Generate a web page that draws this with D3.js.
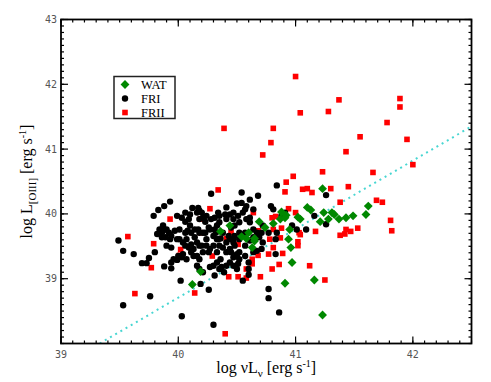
<!doctype html>
<html lang="en">
<head>
<meta charset="UTF-8">
<title>L[OIII] vs nuL_nu</title>
<script src="https://d3js.org/d3.v7.min.js"></script>
<style>
body { margin: 0; background-color: #ffffff; }
svg { display: block; }
.tick-label { font-family: "DejaVu Sans Mono", monospace; font-size: 10px; fill: #555555; }
.title { font-family: "Liberation Serif", "Times New Roman", serif; font-size: 16px; fill: #000000; }
.legend-text { font-family: "Liberation Serif", "Times New Roman", serif; font-size: 12.5px; fill: #000000; }
</style>
</head>
<body>
<div id="plot"></div>
<script>

var width = 491;
var height = 382;
var margin = { left: 61, right: 19.5, top: 19.5, bottom: 38.5 };

// WAT (green diamonds): [log nuL_nu, log L_OIII]
var watData = [
	[41.23, 40.39], [41.62, 40.12], [41.60, 39.99], [41.49, 39.97], [41.43, 39.94],
	[41.37, 39.92], [41.33, 39.99], [41.31, 40.02], [41.28, 39.92], [41.24, 40.02],
	[41.21, 39.88], [41.13, 40.06], [41.10, 40.10], [41.04, 39.92], [41.02, 39.95],
	[40.92, 39.98], [40.88, 40.03], [40.87, 39.92], [40.81, 39.85], [40.95, 39.76],
	[40.94, 39.61], [40.96, 39.48], [40.97, 39.25], [40.91, 38.93], [41.16, 38.98],
	[41.23, 38.44], [40.74, 39.79], [40.69, 39.88], [40.65, 39.62], [40.63, 39.48],
	[40.60, 39.71], [40.54, 39.65], [40.44, 39.82], [40.36, 39.73], [40.19, 39.11],
	[40.12, 38.91], [40.65, 39.58], [40.58, 39.62], [40.91, 39.94]
];

// FRI (black circles)
var friData = [
	[39.49, 39.59], [39.53, 38.59], [39.53, 39.43], [39.62, 39.38], [39.69, 39.24],
	[39.73, 39.24], [39.75, 39.32], [39.76, 38.73], [39.79, 39.97], [39.80, 39.41],
	[39.83, 40.06], [39.88, 40.12], [39.93, 40.19], [39.82, 39.69], [39.87, 39.82],
	[39.87, 39.74], [39.86, 39.64], [39.89, 39.64], [39.92, 39.71], [39.93, 39.61],
	[39.90, 39.51], [39.94, 39.48], [39.88, 39.19], [39.94, 39.16], [39.94, 39.25],
	[39.96, 39.30], [39.99, 39.29], [40.00, 39.35], [40.04, 39.38], [40.02, 38.97],
	[40.03, 38.42], [39.99, 39.97], [40.03, 39.94], [40.06, 39.88], [40.09, 39.92],
	[40.01, 39.76], [40.06, 39.71], [40.10, 39.82], [40.11, 39.71], [40.07, 39.61],
	[40.11, 39.53], [40.13, 39.46], [40.09, 39.48], [40.16, 39.56], [40.16, 40.02],
	[40.18, 40.05], [40.21, 39.94], [40.24, 39.97], [40.17, 39.76], [40.21, 39.71],
	[40.26, 39.79], [40.28, 39.92], [40.31, 39.94], [40.33, 39.82], [40.35, 39.87],
	[40.41, 39.92], [40.44, 39.99], [40.47, 39.92], [40.48, 39.82], [40.51, 39.97],
	[40.52, 39.87], [40.55, 40.02], [40.54, 40.17], [40.58, 40.12], [40.61, 40.22],
	[40.58, 39.92], [40.61, 39.87], [40.64, 39.76], [40.67, 39.71], [40.68, 40.28],
	[40.71, 39.71], [40.72, 39.56], [40.64, 40.07], [40.57, 39.71], [40.52, 39.71],
	[40.48, 39.66], [40.47, 39.56], [40.41, 39.56], [40.35, 39.51], [40.33, 39.41],
	[40.27, 39.46], [40.24, 39.51], [40.21, 39.41], [40.18, 39.30], [40.16, 39.20],
	[40.18, 39.15], [40.21, 39.10], [40.19, 38.92], [40.26, 38.83], [40.28, 40.31],
	[40.30, 38.29], [40.27, 39.18], [40.30, 39.20], [40.33, 39.25], [40.36, 39.30],
	[40.37, 39.18], [40.39, 39.10], [40.41, 39.20], [40.44, 39.25], [40.47, 39.20],
	[40.50, 39.38], [40.51, 39.23], [40.52, 39.41], [40.60, 39.25], [40.60, 39.06],
	[40.55, 38.97], [40.50, 39.35], [40.84, 40.44], [40.77, 38.84], [40.77, 38.70],
	[40.86, 38.48], [40.83, 39.38], [40.83, 39.61], [40.84, 39.71], [40.79, 40.12],
	[40.81, 40.07], [40.88, 39.97], [40.91, 40.02], [40.97, 39.82], [41.01, 39.76],
	[41.09, 39.76], [41.16, 39.97], [41.26, 40.29], [41.26, 39.84], [40.41, 39.41],
	[40.44, 39.46], [40.38, 39.48], [40.33, 39.61], [40.30, 39.66], [40.24, 39.61],
	[40.18, 39.51], [40.13, 39.35], [40.07, 39.30], [40.03, 39.33], [40.67, 39.43],
	[40.64, 39.41], [40.71, 39.46], [40.12, 40.09], [40.17, 40.09], [40.20, 40.02],
	[40.23, 39.88], [40.27, 39.76], [40.32, 39.71], [40.36, 39.62], [40.40, 39.99],
	[40.45, 39.79], [40.47, 39.61], [40.52, 39.61], [40.54, 40.33], [40.50, 40.16],
	[39.84, 39.76], [39.86, 39.71], [39.90, 39.76], [39.94, 39.66], [39.97, 39.74],
	[39.99, 39.61], [40.04, 39.56], [40.08, 39.74], [40.14, 39.76], [40.14, 39.64],
	[40.18, 39.71], [40.31, 39.76], [40.35, 39.97], [40.44, 39.61], [40.48, 39.51],
	[40.57, 39.51], [40.61, 39.59], [40.64, 39.64], [40.69, 39.64], [40.72, 39.82],
	[40.77, 39.71], [40.61, 39.94], [40.57, 40.07], [40.47, 40.02], [40.41, 40.10],
	[40.34, 40.02], [40.23, 39.71], [40.18, 39.92], [40.10, 39.99], [40.06, 40.02],
	[40.01, 39.61], [40.06, 39.51], [40.11, 39.41], [40.16, 39.35], [40.20, 39.51],
	[40.26, 39.41], [40.30, 39.51], [40.34, 39.61], [40.38, 39.71], [40.43, 39.66],
	[40.45, 39.41], [40.52, 39.30], [40.57, 39.35], [40.47, 39.33], [40.60, 39.15],
	[40.50, 39.15], [40.35, 39.15], [40.31, 39.05]
];

// FRII (red squares)
var friiData = [
	[41.00, 42.12], [41.89, 41.78], [41.89, 41.65], [41.37, 41.76], [41.28, 41.58],
	[41.04, 41.56], [40.39, 41.32], [40.81, 41.32], [41.78, 41.41], [41.55, 41.19],
	[40.79, 41.10], [41.95, 41.15], [40.72, 40.91], [41.43, 40.96], [42.00, 40.76],
	[41.23, 40.65], [41.66, 40.64], [40.98, 40.58], [40.92, 40.49], [40.91, 40.34],
	[40.34, 40.37], [41.06, 40.38], [41.10, 40.39], [41.14, 40.33], [41.30, 40.39],
	[41.45, 40.42], [41.38, 40.18], [41.69, 40.21], [41.74, 40.18], [40.94, 40.08],
	[41.00, 40.02], [41.81, 39.90], [41.82, 39.74], [41.53, 39.78], [41.47, 39.73],
	[41.43, 39.76], [41.42, 39.69], [41.38, 39.67], [41.17, 39.73], [41.03, 39.71],
	[41.04, 39.68], [41.02, 39.57], [41.02, 39.51], [40.89, 39.39], [40.86, 39.22],
	[40.80, 39.15], [40.70, 39.03], [41.12, 39.20], [41.25, 38.98], [40.14, 38.78],
	[39.63, 38.77], [39.57, 39.65], [39.77, 39.17], [39.79, 39.54], [40.40, 38.15],
	[40.43, 39.03], [40.51, 39.03], [40.58, 39.01], [40.58, 39.15], [40.63, 39.23],
	[40.63, 39.30], [40.68, 39.36], [40.77, 39.38], [40.81, 39.48], [40.78, 39.61],
	[40.81, 39.76], [40.88, 39.78], [40.83, 39.96], [40.80, 39.94], [40.29, 39.35],
	[40.02, 39.45], [40.01, 39.36], [39.93, 39.92], [40.27, 40.08], [40.19, 39.92],
	[40.19, 39.71], [40.45, 39.71], [40.51, 39.53], [40.68, 39.74], [40.41, 39.62],
	[40.64, 40.02], [40.87, 39.63]
];

// fitted relation (dotted line)
var fitX = [39.33, 42.5];
var fitY = [38.0, 41.35];

var xTicks = [39, 40, 41, 42];
var yTicks = [39, 40, 41, 42, 43];

var svg = d3.select("#plot").append("svg")
	.attr("width", width)
	.attr("height", height);

var xScale = d3.scaleLinear().domain([39, 42.5])
	.range([margin.left, width - margin.right]);
var yScale = d3.scaleLinear().domain([38, 43])
	.range([height - margin.bottom, margin.top]);

var plotW = width - margin.left - margin.right;
var plotH = height - margin.top - margin.bottom;

svg.append("clipPath").attr("id", "clip")
	.append("rect")
	.attr("x", margin.left).attr("y", margin.top)
	.attr("width", plotW).attr("height", plotH);

var plot = svg.append("g").attr("clip-path", "url(#clip)");

// dotted fit line
plot.append("path")
	.datum(d3.zip(fitX, fitY))
	.attr("d", d3.line().x(function (d) { return xScale(d[0]); }).y(function (d) { return yScale(d[1]); }))
	.style("fill", "none")
	.style("stroke", "#48d6d2")
	.style("stroke-width", 2)
	.style("stroke-dasharray", "2,4");

plot.selectAll("rect.frii").data(friiData).enter().append("rect")
	.attr("class", "frii")
	.attr("x", function (d) { return xScale(d[0]) - 2.8; })
	.attr("y", function (d) { return yScale(d[1]) - 2.8; })
	.attr("width", 5.6)
	.attr("height", 5.6)
	.style("fill", "#ff0000");

plot.selectAll("circle.fri").data(friData).enter().append("circle")
	.attr("class", "fri")
	.attr("cx", function (d) { return xScale(d[0]); })
	.attr("cy", function (d) { return yScale(d[1]); })
	.attr("r", 3.2)
	.style("fill", "#000000");

var diamond = d3.symbol().type(d3.symbolDiamond2).size(50);

plot.selectAll("path.wat").data(watData).enter().append("path")
	.attr("class", "wat")
	.attr("transform", function (d) { return "translate(" + xScale(d[0]) + "," + yScale(d[1]) + ")"; })
	.attr("d", diamond)
	.style("fill", "#008800");

// axes with inward ticks on all sides
var xMinor = d3.range(39, 42.5001, 0.1);
var yMinor = d3.range(38, 43.0001, 0.1);

function tickSet(g, scale, vals, len, orient) {
	vals.forEach(function (v) {
		var p = scale(v);
		if (orient === "bottom") {
			g.append("line").attr("x1", p).attr("x2", p).attr("y1", height - margin.bottom).attr("y2", height - margin.bottom - len);
		} else if (orient === "top") {
			g.append("line").attr("x1", p).attr("x2", p).attr("y1", margin.top).attr("y2", margin.top + len);
		} else if (orient === "left") {
			g.append("line").attr("y1", p).attr("y2", p).attr("x1", margin.left).attr("x2", margin.left + len);
		} else {
			g.append("line").attr("y1", p).attr("y2", p).attr("x1", width - margin.right).attr("x2", width - margin.right - len);
		}
	});
}

var ticks = svg.append("g").style("stroke", "#000").style("stroke-width", 1.2);
tickSet(ticks, xScale, xMinor, 3, "bottom");
tickSet(ticks, xScale, xMinor, 3, "top");
tickSet(ticks, yScale, yMinor, 3, "left");
tickSet(ticks, yScale, yMinor, 3, "right");
tickSet(ticks, xScale, xTicks, 7, "bottom");
tickSet(ticks, xScale, xTicks, 7, "top");
tickSet(ticks, yScale, yTicks, 7, "left");
tickSet(ticks, yScale, yTicks, 7, "right");

svg.append("rect")
	.attr("x", margin.left).attr("y", margin.top)
	.attr("width", plotW).attr("height", plotH)
	.style("fill", "none")
	.style("stroke", "#000")
	.style("stroke-width", 1.8);

svg.selectAll("text.xlab").data(xTicks).enter().append("text")
	.attr("class", "tick-label")
	.attr("x", function (d) { return xScale(d); })
	.attr("y", height - margin.bottom + 14)
	.attr("text-anchor", "middle")
	.text(function (d) { return d; });

svg.selectAll("text.ylab").data(yTicks).enter().append("text")
	.attr("class", "tick-label")
	.attr("x", margin.left - 4)
	.attr("y", function (d) { return yScale(d) + 3.5; })
	.attr("text-anchor", "end")
	.text(function (d) { return d; });

// axis titles
var xt = svg.append("text")
	.attr("class", "title")
	.attr("x", margin.left + plotW / 2)
	.attr("y", height - 9)
	.attr("text-anchor", "middle");
xt.append("tspan").text("log \u03bdL");
xt.append("tspan").attr("dy", 4).style("font-size", "11px").text("\u03bd");
xt.append("tspan").attr("dy", -4).text(" [erg s");
xt.append("tspan").attr("dy", -6).style("font-size", "10px").text("-1");
xt.append("tspan").attr("dy", 6).text("]");

var yt = svg.append("text")
	.attr("class", "title")
	.attr("transform", "translate(32," + (margin.top + plotH / 2) + ") rotate(-90)")
	.attr("text-anchor", "middle");
yt.append("tspan").text("log L");
yt.append("tspan").attr("dy", 4).style("font-size", "11px").text("[OIII]");
yt.append("tspan").attr("dy", -4).text(" [erg s");
yt.append("tspan").attr("dy", -6).style("font-size", "10px").text("-1");
yt.append("tspan").attr("dy", 6).text("]");

// legend
var legendNames = ["WAT", "FRI", "FRII"];
var legend = svg.append("g");
legend.append("rect")
	.attr("x", 114).attr("y", 76.5)
	.attr("width", 61).attr("height", 42)
	.style("fill", "#fff")
	.style("stroke", "#222")
	.style("stroke-width", 1.5);

var ly = [84.5, 98.5, 112.5];
legend.append("path")
	.attr("transform", "translate(125," + ly[0] + ")")
	.attr("d", diamond)
	.style("fill", "#008800");
legend.append("circle")
	.attr("cx", 125).attr("cy", ly[1]).attr("r", 3.2)
	.style("fill", "#000");
legend.append("rect")
	.attr("x", 122.2).attr("y", ly[2] - 2.8)
	.attr("width", 5.6).attr("height", 5.6)
	.style("fill", "#ff0000");
legendNames.forEach(function (n, i) {
	legend.append("text")
		.attr("class", "legend-text")
		.attr("x", 141)
		.attr("y", ly[i] + 4.3)
		.text(n);
});

</script>
</body>
</html>
